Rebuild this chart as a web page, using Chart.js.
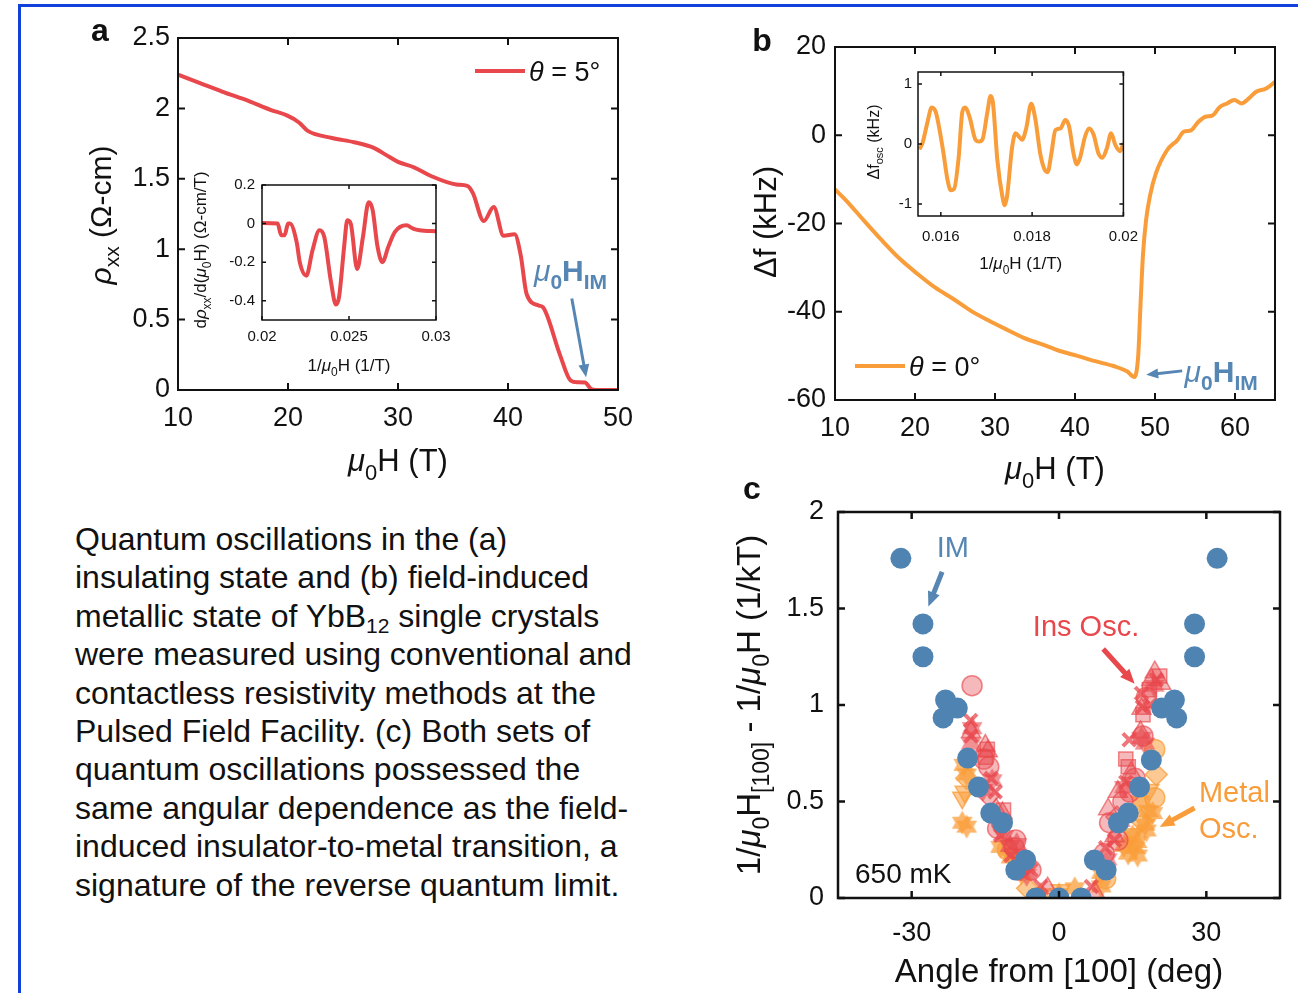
<!DOCTYPE html>
<html>
<head>
<meta charset="utf-8">
<script src="https://cdn.jsdelivr.net/npm/chart.js@4.4.0/dist/chart.umd.min.js"></script>
<style>
body { margin: 0; background: #fff; width: 1298px; height: 993px; overflow: hidden; position: relative; font-family: "Liberation Sans", Arial, sans-serif; }
canvas { position: absolute; }
#frameTop { position: absolute; left: 18px; top: 4px; width: 1280px; height: 3px; background: #1240dc; }
#frameLeft { position: absolute; left: 18px; top: 4px; width: 3px; height: 989px; background: #1240dc; }
#caption { position: absolute; left: 75px; top: 520px; font-size: 32px; line-height: 38.4px; color: #111; white-space: nowrap; }
#caption sub { font-size: 21px; line-height: 0; vertical-align: -6px; }
</style>
</head>
<body>
<div id="frameTop"></div>
<div id="frameLeft"></div>
<canvas id="cA" width="660" height="490" style="left:0;top:0"></canvas>
<canvas id="cAi" width="280" height="240" style="left:180px;top:150px"></canvas>
<canvas id="cB" width="563" height="490" style="left:735px;top:0"></canvas>
<canvas id="cBi" width="300" height="225" style="left:850px;top:55px"></canvas>
<canvas id="cC" width="563" height="513" style="left:735px;top:480px"></canvas>
<div id="caption">Quantum oscillations in the (a)<br>insulating state and (b) field-induced<br>metallic state of YbB<sub>12</sub> single crystals<br>were measured using conventional and<br>contactless resistivity methods at the<br>Pulsed Field Facility. (c) Both sets of<br>quantum oscillations possessed the<br>same angular dependence as the field-<br>induced insulator-to-metal transition, a<br>signature of the reverse quantum limit.</div>
<script>
const FONT = '"Liberation Sans", Arial, sans-serif';
const RED = '#e8474c';
const ORANGE = '#f99d3a';
const BLUE = '#5686b4';
const IMBLUE = '#4f84b2';

// panel a: resistivity vs field, theta = 5 deg
const aField = [10, 12, 14, 16.5, 18.4, 19.9, 21, 21.8, 24, 26, 27.8, 28.9, 30, 31.5, 33, 35.3, 36.3, 36.8, 37.8, 38.7, 39.6, 40.6, 41.15, 41.7, 42.8, 43.2, 44.7, 45.7, 46.3, 47, 47.55, 48, 50];
const aRho = [2.24, 2.18, 2.12, 2.05, 1.99, 1.95, 1.90, 1.84, 1.79, 1.76, 1.72, 1.67, 1.62, 1.58, 1.52, 1.46, 1.45, 1.40, 1.20, 1.30, 1.095, 1.106, 0.96, 0.68, 0.60, 0.586, 0.255, 0.066, 0.055, 0.054, 0.007, 0, 0];
const aFieldTicks = [10, 20, 30, 40, 50];
const aRhoTicks = [0, 0.5, 1, 1.5, 2, 2.5];

// panel a inset: d rho / d(mu0 H) vs 1/mu0 H
const aiInvField = [0.02, 0.0209, 0.0211, 0.0213, 0.0215, 0.0216, 0.022, 0.02217, 0.02255, 0.0229, 0.0233, 0.02358, 0.02396, 0.02425, 0.02443, 0.02472, 0.0249, 0.0251, 0.02547, 0.0258, 0.02613, 0.02636, 0.02664, 0.02692, 0.02726, 0.02764, 0.0283, 0.02868, 0.02906, 0.03];
const aiDeriv = [0.003, 0, -0.06, -0.06, 0, 0, -0.10, -0.20, -0.27, -0.14, -0.035, -0.07, -0.30, -0.42, -0.38, -0.12, 0.017, 0, -0.235, -0.07, 0.11, 0.07, -0.12, -0.20, -0.12, -0.043, -0.009, -0.026, -0.035, -0.04];
const aiXTicks = [0.02, 0.025, 0.03];
const aiYTicks = [-0.4, -0.2, 0, 0.2];

// panel b: frequency shift vs field, theta = 0 deg
const bField = [10, 11.4, 13.6, 15.9, 18.1, 20.3, 22.5, 24.8, 27, 29.2, 31.4, 33.6, 35.9, 38.1, 40.3, 42.5, 44.8, 46.5, 47.4, 47.9, 48.2, 48.5, 48.9, 49.4, 50.1, 51.5, 52.8, 53.6, 54.5, 55.4, 56.3, 57.2, 58.1, 59, 59.9, 60.8, 61.7, 62.6, 63.9, 65];
const bShift = [-12.3, -14.8, -19.3, -23.9, -28.0, -31.4, -34.5, -37.1, -39.8, -42.0, -44.0, -45.9, -47.4, -48.9, -50.0, -51.2, -52.3, -53.5, -54.8, -50, -38, -27, -19, -13.5, -8.7, -3.4, -1.1, 0.8, 1.1, 3.0, 4.2, 4.5, 6.4, 7.2, 8.0, 7.2, 8.3, 9.8, 10.6, 12.1];
const bFieldTicks = [10, 20, 30, 40, 50, 60];
const bShiftTicks = [-60, -40, -20, 0, 20];

// panel b inset: oscillatory part vs 1/mu0 H
const biInvField = [0.01553, 0.0156, 0.01571, 0.0158, 0.01589, 0.01604, 0.01615, 0.01622, 0.01629, 0.01639, 0.01647, 0.01653, 0.01663, 0.01676, 0.01684, 0.01691, 0.01702, 0.01709, 0.01714, 0.01724, 0.01735, 0.0174, 0.01745, 0.01756, 0.01764, 0.01771, 0.01778, 0.01787, 0.01798, 0.01807, 0.01818, 0.01829, 0.01834, 0.01842, 0.01851, 0.01862, 0.01873, 0.01881, 0.01891, 0.01898, 0.01905, 0.01916, 0.01925, 0.01935, 0.01945, 0.01954, 0.01964, 0.01973, 0.01982, 0.01993, 0.02];
const biOsc = [-0.09, 0.02, 0.37, 0.61, 0.53, -0.065, -0.61, -0.77, -0.75, -0.23, 0.53, 0.61, 0.45, 0.07, 0.04, 0.07, 0.53, 0.80, 0.70, -0.28, -0.88, -1.02, -0.88, -0.065, 0.18, 0.125, 0.07, 0.26, 0.67, 0.42, -0.17, -0.45, -0.47, -0.17, 0.23, 0.26, 0.40, 0.29, -0.17, -0.34, -0.23, 0.125, 0.26, 0.15, -0.15, -0.23, -0.065, 0.18, -0.01, -0.12, 0.015];
const biXTicks = [0.016, 0.018, 0.02];
const biYTicks = [-1, 0, 1];

// panel c: angular dependence
const imAngle = [-32.2, -27.7, -27.7, -23.1, -20.7, -23.6, -18.6, -16.4, -13.9, -11.5, -8.8, -6.8, -4.7, 0, 4.5, 7.2, 9.6, 12.1, 14.1, 16.4, 18.8, 20.9, 23.5, 23.96, 27.6, 27.6, 32.2];
const imValue = [1.76, 1.42, 1.25, 1.026, 0.984, 0.933, 0.725, 0.575, 0.44, 0.39, 0.145, 0.197, 0, 0, 0, 0.197, 0.145, 0.39, 0.44, 0.575, 0.715, 0.984, 1.026, 0.933, 1.42, 1.25, 1.76];

const insCircleAngle = [-17.7, -14.3, -15.3, -11.7, -12.5, -8.8, -9.1, -7.5, -5.7, 9.2, 12.0, 10.3, 13.0, 14.4, 15.5, 17.1, 17.8];
const insCircleValue = [1.10, 0.68, 0.72, 0.39, 0.36, 0.30, 0.26, 0.20, 0.145, 0.23, 0.30, 0.39, 0.50, 0.55, 0.62, 0.84, 1.04];
const insTriAngle = [-17.9, -15.0, -14.5, -12.8, -11.5, -2.3, 7.3, 11.3, 10.0, 12.0, 14.7, 16.6, 16.8, 18.8, 19.5, 20.8];
const insTriValue = [0.86, 0.79, 0.76, 0.46, 0.44, 0.05, 0.03, 0.32, 0.46, 0.55, 0.65, 0.86, 0.98, 1.13, 1.17, 1.11];
const insSquareAngle = [-15.0, -14.6, -11.3, 13.6, 14.1, 17.1, 18.4, 20.5];
const insSquareValue = [0.73, 0.77, 0.456, 0.72, 0.68, 0.95, 1.08, 1.15];
const insCrossAngle = [-18.0, -17.9, -13.8, -13.0, -11.9, -9.8, -5.7, -3.7, 6.6, 9.5, 11.3, 13.6, 14.3, 16.8, 17.0, 19.8, 18.6];
const insCrossValue = [0.92, 0.84, 0.62, 0.55, 0.326, 0.22, 0.145, 0.06, 0.06, 0.26, 0.30, 0.60, 0.82, 1.06, 0.99, 1.13, 1.0];
const insStarAngle = [-17.9, -17.7, -15.5, -13.6, -11.2, -10.0, -8.6, -6.6, 9.8, 12.5, 13.3, 16.8, 17.5, 19.4];
const insStarValue = [0.80, 0.88, 0.56, 0.61, 0.32, 0.27, 0.28, 0.12, 0.20, 0.40, 0.575, 0.83, 0.80, 1.10];
const insDiamondAngle = [-14.3, -7.7, 11.8];
const insDiamondValue = [0.53, 0.15, 0.42];

const metStarAngle = [-19.4, -18.8, -19.7, -18.8, -11.9, -9.8, -7.7, -3.7, 0, 3.2, 8.6, 8.6, 13.2, 14.1, 15.0, 15.5, 15.9, 16.0, 16.5, 17.8, 18.2, 19.1, 17.5];
const metStarValue = [0.69, 0.64, 0.39, 0.37, 0.265, 0.21, 0.13, 0.02, 0.02, 0.05, 0.06, 0.13, 0.27, 0.23, 0.32, 0.26, 0.29, 0.22, 0.50, 0.35, 0.45, 0.44, 0.38];
const metTriDownAngle = [-19.7, -19.2, -9.1, 0.3, 14.8, 18.4];
const metTriDownValue = [0.52, 0.55, 0.19, 0.04, 0.33, 0.56];
const metDiamondAngle = [-18.8, -6.4, 16.8, 19.8];
const metDiamondValue = [0.62, 0.05, 0.40, 0.64];
const metCircleAngle = [-10.5, 9.5, 19.5, 19.5];
const metCircleValue = [0.25, 0.10, 0.52, 0.77];

const cAngleTicks = [-30, 0, 30];
const cValueTicks = [0, 0.5, 1, 1.5, 2];

function pts(xs, ys) {
    return xs.map((x, i) => ({ x: x, y: ys[i] }));
}

// draw text made of pieces: [text, flags] where flags may hold i (italic), b (bold), s (subscript)
function rich(ctx, parts, x, y, size, align, color) {
    const fontOf = (f) => (f.includes('i') ? 'italic ' : '') + (f.includes('b') ? 'bold ' : '') +
        (f.includes('s') ? Math.round(size * 0.7) : size) + 'px ' + FONT;
    let total = 0;
    parts.forEach(p => { ctx.font = fontOf(p[1]); total += ctx.measureText(p[0]).width; });
    let cx = align === 'center' ? x - total / 2 : (align === 'right' ? x - total : x);
    ctx.fillStyle = color || '#111';
    ctx.textAlign = 'left';
    ctx.textBaseline = 'alphabetic';
    const base = y + size * 0.36;
    parts.forEach(p => {
        ctx.font = fontOf(p[1]);
        ctx.fillText(p[0], cx, p[1].includes('s') ? base + size * 0.28 : base);
        cx += ctx.measureText(p[0]).width;
    });
}

function vrich(ctx, parts, x, y, size, color) {
    ctx.save();
    ctx.translate(x, y);
    ctx.rotate(-Math.PI / 2);
    rich(ctx, parts, 0, 0, size, 'center', color);
    ctx.restore();
}

function arrow(ctx, x1, y1, x2, y2, color, lw, head) {
    const ang = Math.atan2(y2 - y1, x2 - x1);
    ctx.save();
    ctx.strokeStyle = color;
    ctx.fillStyle = color;
    ctx.lineWidth = lw;
    ctx.beginPath();
    ctx.moveTo(x1, y1);
    ctx.lineTo(x2 - Math.cos(ang) * head * 0.8, y2 - Math.sin(ang) * head * 0.8);
    ctx.stroke();
    ctx.beginPath();
    ctx.moveTo(x2, y2);
    ctx.lineTo(x2 - head * Math.cos(ang - 0.4), y2 - head * Math.sin(ang - 0.4));
    ctx.lineTo(x2 - head * Math.cos(ang + 0.4), y2 - head * Math.sin(ang + 0.4));
    ctx.closePath();
    ctx.fill();
    ctx.restore();
}

// box + inward ticks on all four sides, then extra drawing
function deco(lw, tl, extra) {
    return {
        id: 'deco',
        afterDraw(chart) {
            const { ctx, chartArea: a, scales: { x, y } } = chart;
            ctx.save();
            ctx.strokeStyle = '#111';
            ctx.lineWidth = lw;
            ctx.strokeRect(a.left, a.top, a.width, a.height);
            ctx.beginPath();
            x.ticks.forEach(t => {
                const px = x.getPixelForValue(t.value);
                ctx.moveTo(px, a.bottom); ctx.lineTo(px, a.bottom - tl);
                ctx.moveTo(px, a.top); ctx.lineTo(px, a.top + tl);
            });
            y.ticks.forEach(t => {
                const py = y.getPixelForValue(t.value);
                ctx.moveTo(a.left, py); ctx.lineTo(a.left + tl, py);
                ctx.moveTo(a.right, py); ctx.lineTo(a.right - tl, py);
            });
            ctx.stroke();
            ctx.restore();
            if (extra) extra(chart, ctx);
        }
    };
}

function axis(min, max, ticks, size, pad, fit, isX) {
    return {
        type: 'linear',
        min: min,
        max: max,
        grid: { display: false, drawTicks: false },
        border: { display: false },
        ticks: { font: { size: size, family: FONT }, color: '#111', padding: pad, autoSkip: false, maxRotation: 0, callback: v => String(v) },
        afterBuildTicks: s => { s.ticks = ticks.map(v => ({ value: v })); },
        afterFit: s => { if (isX) s.height = fit; else s.width = fit; }
    };
}

function baseOptions(padding, scales) {
    return {
        responsive: false,
        animation: false,
        devicePixelRatio: 1,
        layout: { padding: padding },
        plugins: { legend: { display: false }, tooltip: { enabled: false } },
        scales: scales
    };
}

function lineSet(xs, ys, color, width) {
    return {
        data: pts(xs, ys),
        borderColor: color,
        borderWidth: width,
        pointRadius: 0,
        cubicInterpolationMode: 'monotone',
        fill: false
    };
}

const muH = [['μ', 'i'], ['0', 's'], ['H (T)', '']];
const invMuH = [['1/', ''], ['μ', 'i'], ['0', 's'], ['H (1/T)', '']];
const muHim = [['μ', 'i'], ['0', 'sb'], ['H', 'b'], ['IM', 'sb']];

// ---------- panel a ----------
new Chart(document.getElementById('cA'), {
    type: 'line',
    data: { datasets: [lineSet(aField, aRho, RED, 4)] },
    options: baseOptions({ left: 118, right: 42, top: 38, bottom: 50 }, {
        x: axis(10, 50, aFieldTicks, 27, 12, 50, true),
        y: axis(0, 2.5, aRhoTicks, 27, 8, 60, false)
    }),
    plugins: [deco(2, 7, (chart, ctx) => {
        const a = chart.chartArea, x = chart.scales.x, y = chart.scales.y;
        ctx.save();
        ctx.font = 'bold 32px ' + FONT;
        ctx.fillStyle = '#111';
        ctx.textAlign = 'center';
        ctx.textBaseline = 'middle';
        ctx.fillText('a', 100, 32);
        vrich(ctx, [['ρ', 'i'], ['xx', 's'], [' (Ω-cm)', '']], 100, 215, 30);
        rich(ctx, muH, (a.left + a.right) / 2, 460, 31, 'center');
        // legend
        ctx.strokeStyle = RED;
        ctx.lineWidth = 4;
        ctx.beginPath();
        ctx.moveTo(475, 71); ctx.lineTo(525, 71);
        ctx.stroke();
        rich(ctx, [['θ', 'i'], [' = 5°', '']], 529, 71, 27, 'left');
        // transition marker
        rich(ctx, muHim, 534, 270, 30, 'left', BLUE);
        arrow(ctx, x.getPixelForValue(45.8), y.getPixelForValue(0.65), x.getPixelForValue(47.1), y.getPixelForValue(0.09), BLUE, 3, 14);
        ctx.restore();
    })]
});

new Chart(document.getElementById('cAi'), {
    type: 'line',
    data: { datasets: [lineSet(aiInvField, aiDeriv, RED, 4)] },
    options: baseOptions({ left: 42, right: 24, top: 35, bottom: 35 }, {
        x: axis(0.02, 0.03, aiXTicks, 15, 8, 35, true),
        y: axis(-0.5, 0.2, aiYTicks, 15, 7, 40, false)
    }),
    plugins: [deco(1.5, 4, (chart, ctx) => {
        const a = chart.chartArea;
        vrich(ctx, [['d', ''], ['ρ', 'i'], ['xx', 's'], ['/d(', ''], ['μ', 'i'], ['0', 's'], ['H) (Ω-cm/T)', '']], 20, 100, 17);
        rich(ctx, invMuH, (a.left + a.right) / 2, 215, 17, 'center');
    })]
});

// ---------- panel b ----------
new Chart(document.getElementById('cB'), {
    type: 'line',
    data: { datasets: [lineSet(bField, bShift, ORANGE, 4)] },
    options: baseOptions({ left: 45, right: 23, top: 47, bottom: 40 }, {
        x: axis(10, 65, bFieldTicks, 27, 12, 50, true),
        y: axis(-60, 20, bShiftTicks, 27, 9, 55, false)
    }),
    plugins: [deco(2, 7, (chart, ctx) => {
        const a = chart.chartArea, x = chart.scales.x, y = chart.scales.y;
        ctx.save();
        ctx.font = 'bold 32px ' + FONT;
        ctx.fillStyle = '#111';
        ctx.textAlign = 'center';
        ctx.textBaseline = 'middle';
        ctx.fillText('b', 27, 42);
        vrich(ctx, [['Δf (kHz)', '']], 30, 222, 31);
        rich(ctx, muH, (a.left + a.right) / 2, 468, 31, 'center');
        ctx.strokeStyle = ORANGE;
        ctx.lineWidth = 4;
        ctx.beginPath();
        ctx.moveTo(120, 366); ctx.lineTo(170, 366);
        ctx.stroke();
        rich(ctx, [['θ', 'i'], [' = 0°', '']], 174, 366, 27, 'left');
        arrow(ctx, x.getPixelForValue(53.4), y.getPixelForValue(-53.4), x.getPixelForValue(48.9), y.getPixelForValue(-54.3), BLUE, 3, 13);
        rich(ctx, muHim, x.getPixelForValue(53.7), y.getPixelForValue(-53.4), 30, 'left', BLUE);
        ctx.restore();
    })]
});

new Chart(document.getElementById('cBi'), {
    type: 'line',
    data: { datasets: [lineSet(biInvField, biOsc, ORANGE, 4)] },
    options: baseOptions({ left: 38, right: 24, top: 17, bottom: 29 }, {
        x: axis(0.0155, 0.02, biXTicks, 15, 12, 35, true),
        y: axis(-1.2, 1.2, biYTicks, 15, 6, 30, false)
    }),
    plugins: [deco(1.5, 4, (chart, ctx) => {
        const a = chart.chartArea;
        vrich(ctx, [['Δf', ''], ['osc', 's'], [' (kHz)', '']], 23, 87, 16);
        rich(ctx, invMuH, (a.left + a.right) / 2, 208, 17, 'center');
    })]
});

// ---------- panel c ----------
function starImg(color, r) {
    const c = document.createElement('canvas');
    c.width = c.height = 2 * r + 2;
    const g = c.getContext('2d');
    g.beginPath();
    for (let i = 0; i < 12; i++) {
        const ang = -Math.PI / 2 + i * Math.PI / 6;
        const rr = i % 2 ? r * 0.58 : r;
        g.lineTo(r + 1 + rr * Math.cos(ang), r + 1 + rr * Math.sin(ang));
    }
    g.closePath();
    g.fillStyle = color;
    g.fill();
    return c;
}

const redFill = 'rgba(232,72,77,0.38)';
const redLine = 'rgba(232,72,77,0.65)';
const orFill = 'rgba(249,157,58,0.55)';
const orLine = 'rgba(249,157,58,0.75)';

function markSet(xs, ys, style, r, fill, line, extra) {
    return Object.assign({
        data: pts(xs, ys),
        pointStyle: style,
        pointRadius: r,
        backgroundColor: fill,
        borderColor: line,
        borderWidth: 1.5
    }, extra || {});
}

new Chart(document.getElementById('cC'), {
    type: 'scatter',
    data: {
        datasets: [
            markSet(imAngle, imValue, 'circle', 10.5, IMBLUE, IMBLUE, { borderWidth: 0 }),
            markSet(insCrossAngle, insCrossValue, 'crossRot', 9, redLine, 'rgba(232,72,77,0.75)', { borderWidth: 4 }),
            markSet(insCircleAngle, insCircleValue, 'circle', 10, redFill, redLine),
            markSet(insTriAngle, insTriValue, 'triangle', 11, redFill, redLine),
            markSet(insSquareAngle, insSquareValue, 'rect', 10, redFill, redLine),
            markSet(insStarAngle, insStarValue, starImg('rgba(232,72,77,0.6)', 12), 12, redFill, redLine),
            markSet(insDiamondAngle, insDiamondValue, 'rectRot', 11, redFill, redLine),
            markSet(metStarAngle, metStarValue, starImg('rgba(249,157,58,0.75)', 12), 12, orFill, orLine),
            markSet(metTriDownAngle, metTriDownValue, 'triangle', 11, orFill, orLine, { pointRotation: 180 }),
            markSet(metDiamondAngle, metDiamondValue, 'rectRot', 11, orFill, orLine),
            markSet(metCircleAngle, metCircleValue, 'circle', 10, orFill, orLine)
        ]
    },
    options: baseOptions({ left: 43, right: 18, top: 32, bottom: 40 }, {
        x: axis(-45, 45, cAngleTicks, 27, 19, 55, true),
        y: axis(0, 2, cValueTicks, 27, 14, 60, false)
    }),
    plugins: [deco(2.5, 7, (chart, ctx) => {
        const a = chart.chartArea, x = chart.scales.x, y = chart.scales.y;
        ctx.save();
        ctx.font = 'bold 32px ' + FONT;
        ctx.fillStyle = '#111';
        ctx.textAlign = 'center';
        ctx.textBaseline = 'middle';
        ctx.fillText('c', 17, 10);
        vrich(ctx, [['1/', ''], ['μ', 'i'], ['0', 's'], ['H', ''], ['[100]', 's'], [' - 1/', ''], ['μ', 'i'], ['0', 's'], ['H (1/kT)', '']], 13, 225, 33);
        rich(ctx, [['Angle from [100] (deg)', '']], (a.left + a.right) / 2, 490, 33, 'center');
        rich(ctx, [['650 mK', '']], a.left + 17, y.getPixelForValue(0.13), 28, 'left');
        rich(ctx, [['IM', '']], x.getPixelForValue(-21.6), y.getPixelForValue(1.82), 29, 'center', BLUE);
        arrow(ctx, x.getPixelForValue(-23.8), y.getPixelForValue(1.69), x.getPixelForValue(-26.6), y.getPixelForValue(1.51), BLUE, 5, 16);
        rich(ctx, [['Ins Osc.', '']], x.getPixelForValue(5.5), y.getPixelForValue(1.41), 29, 'center', RED);
        arrow(ctx, x.getPixelForValue(9.0), y.getPixelForValue(1.29), x.getPixelForValue(15.4), y.getPixelForValue(1.11), RED, 5, 16);
        rich(ctx, [['Metal', '']], x.getPixelForValue(28.5), y.getPixelForValue(0.55), 29, 'left', ORANGE);
        rich(ctx, [['Osc.', '']], x.getPixelForValue(28.5), y.getPixelForValue(0.365), 29, 'left', ORANGE);
        arrow(ctx, x.getPixelForValue(27.6), y.getPixelForValue(0.466), x.getPixelForValue(20.5), y.getPixelForValue(0.368), ORANGE, 5, 16);
        ctx.restore();
    })]
});
</script>
</body>
</html>
